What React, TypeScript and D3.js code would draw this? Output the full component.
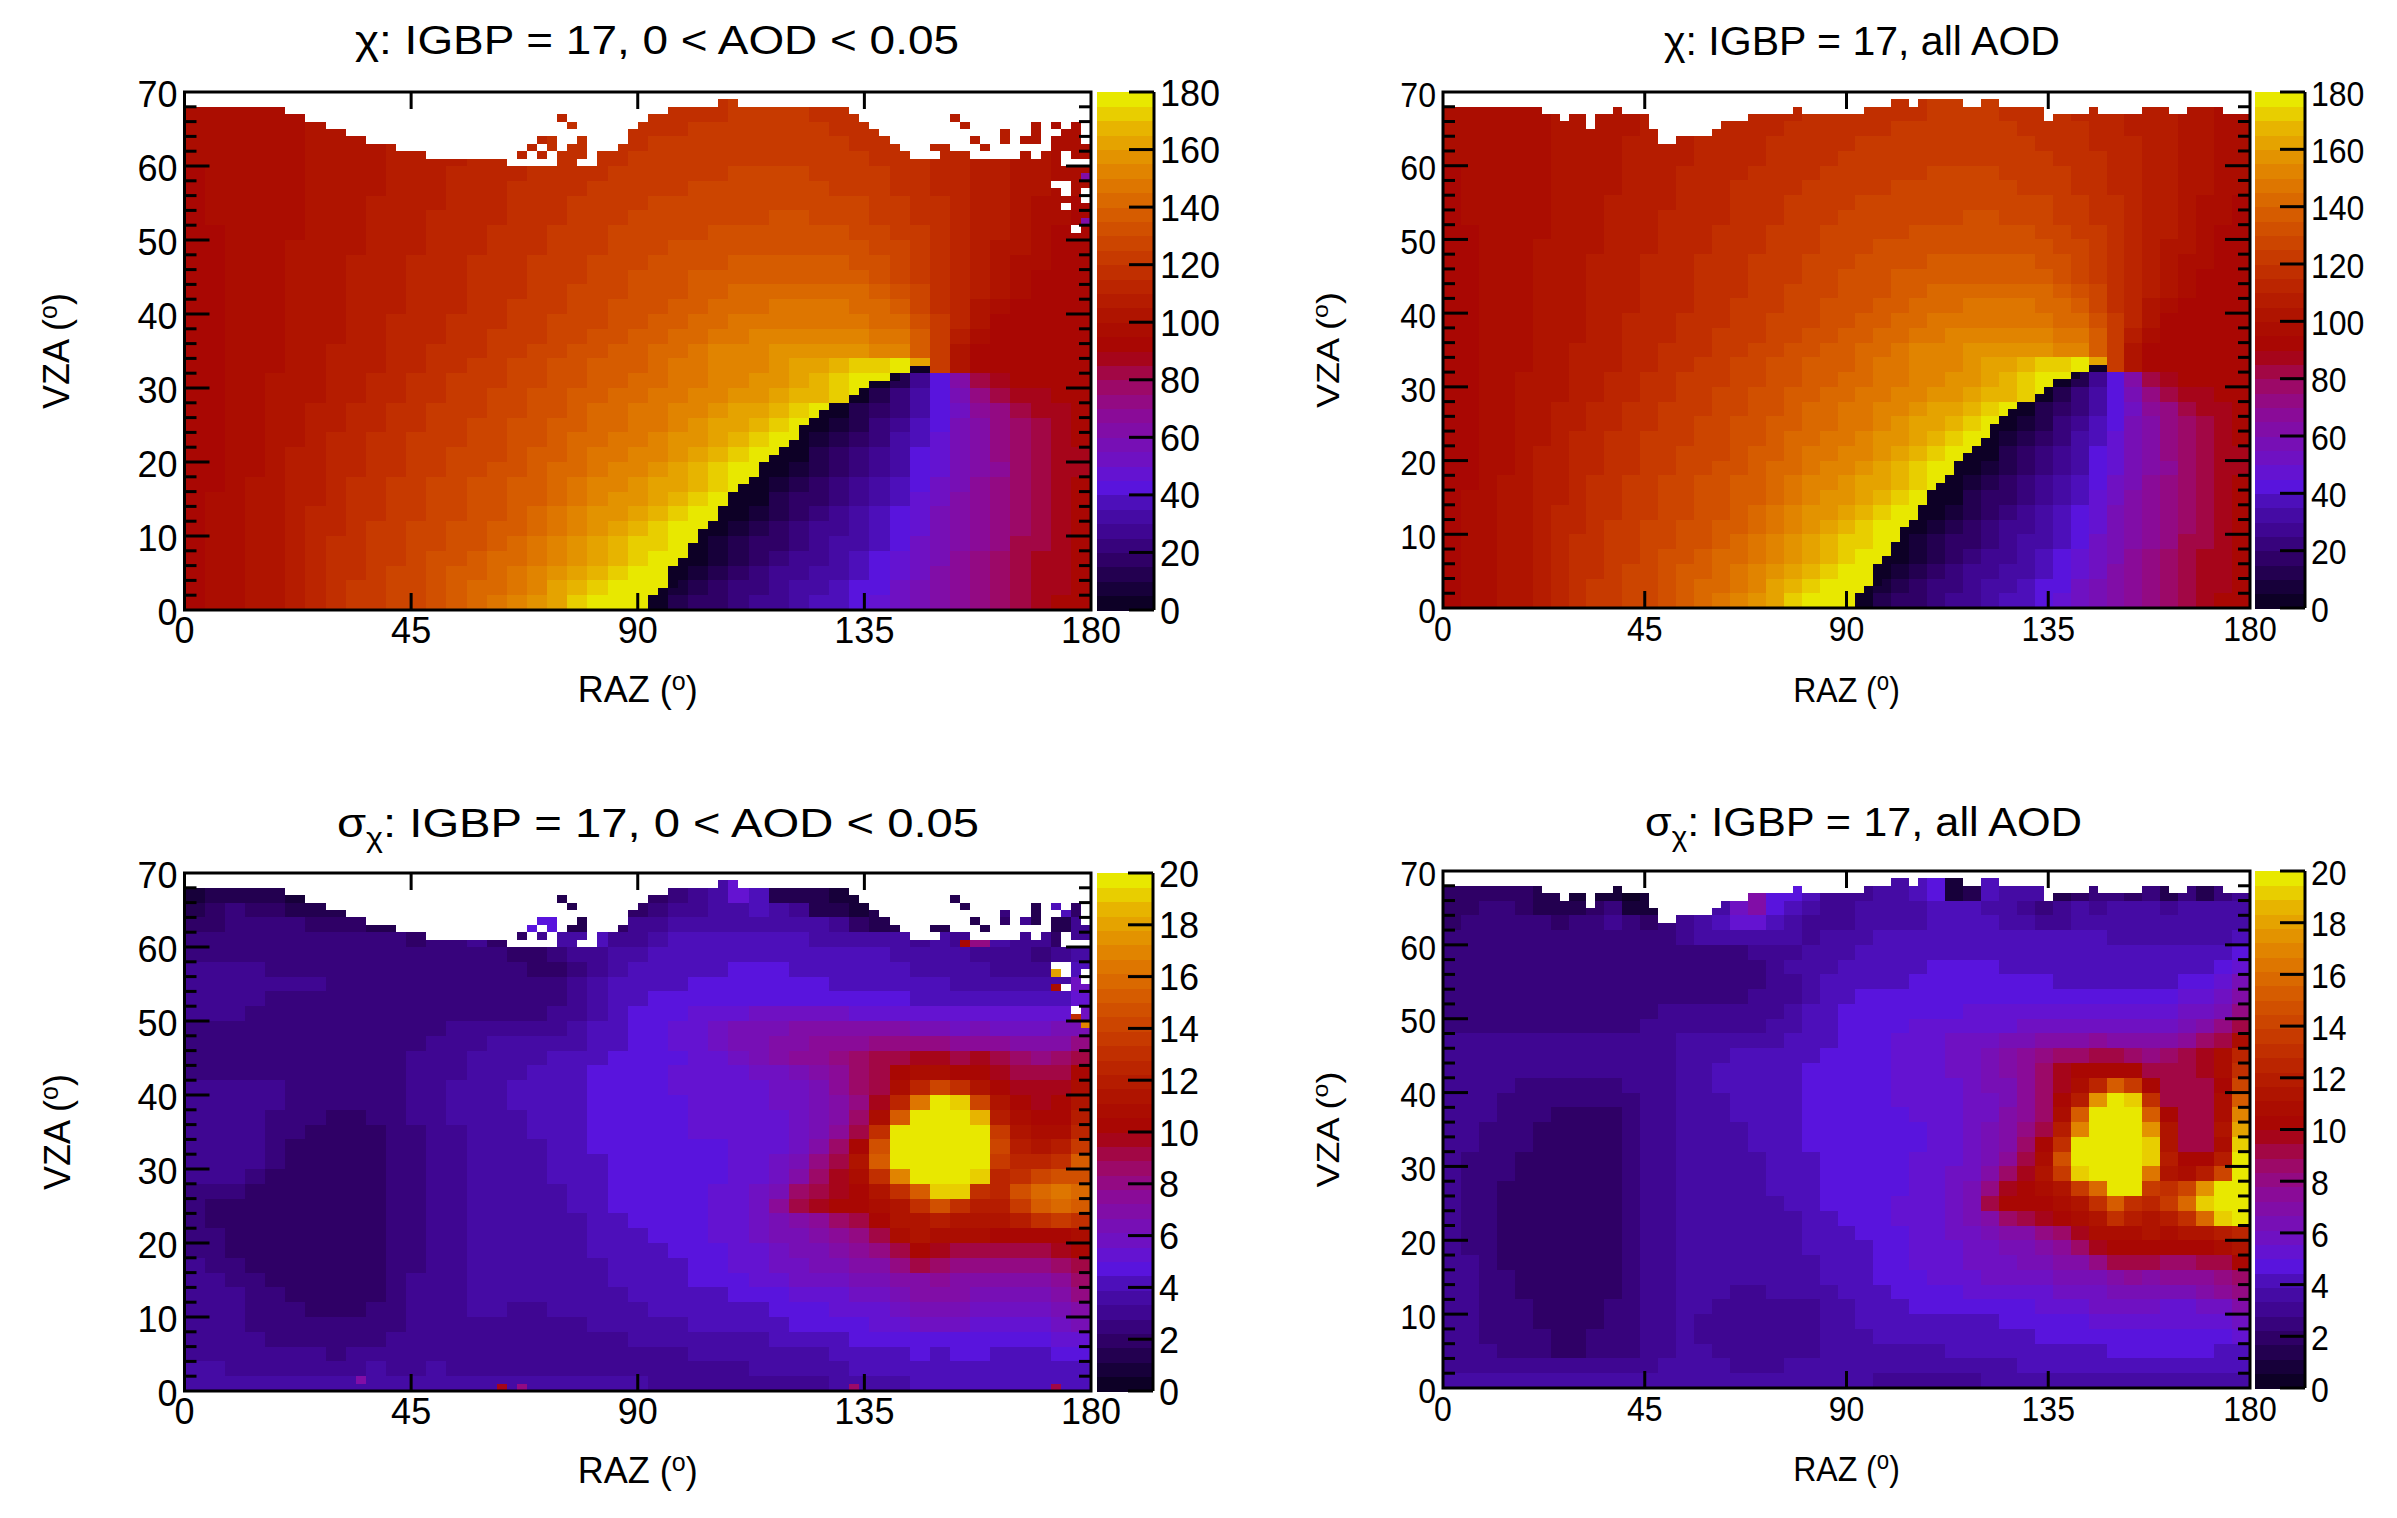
import React from "react";
import * as d3 from "d3";

const FONT = "'Liberation Sans', Arial, sans-serif";
const BANDS = 36;
const X_TICKS = [0, 45, 90, 135, 180];
const Y_MAJOR = [0, 10, 20, 30, 40, 50, 60, 70];
const Y_MINOR = [2, 4, 6, 8, 12, 14, 16, 18, 22, 24, 26, 28, 32, 34, 36, 38, 42, 44, 46, 48, 52, 54, 56, 58, 62, 64, 66, 68];
const CHI_TICKS = [0, 20, 40, 60, 80, 100, 120, 140, 160, 180];
const SIGMA_TICKS = [0, 2, 4, 6, 8, 10, 12, 14, 16, 18, 20];

const PALETTE_AT = [0, 9, 18, 27, 36, 43, 50, 60, 70, 80, 90, 100, 110, 120, 130, 140, 150, 160, 170, 176];
const PALETTE = ["#08001c", "#1a0040", "#300068", "#3e0690", "#4a0eb0", "#5a14e0", "#6a12c8", "#7c0eae", "#8e0a90", "#a0085a", "#a80404", "#ac1000", "#b82000", "#c43400", "#cf4a00", "#d86200", "#e07c00", "#e49a00", "#e8bc00", "#e8e800"];

// Cell values: rows VZA 0-2, 2-4, ... ; columns RAZ 0-4, 4-8, ...
const CHI: number[][] = [
[92,95,98,101,104,108,112,116,120,123,126,129,133,137,141,145,150,156,163,170,175,177,178,4,10,15,19,23,26,29,32,35,38,41,46,52,57,62,67,72,77,82,86,90,93],
[92,95,98,101,104,108,112,116,120,123,126,129,132,136,140,144,148,154,160,167,172,176,178,178,6,12,17,21,24,27,30,33,36,40,44,50,55,61,66,71,76,81,85,89,93],
[92,95,98,101,104,108,112,115,119,122,125,128,131,135,138,142,146,151,157,163,168,172,176,178,178,8,13,18,21,25,28,31,34,38,43,49,54,60,65,71,76,81,85,89,93],
[92,95,98,101,104,107,111,115,118,121,124,127,130,133,136,140,144,148,154,159,164,168,173,177,178,178,9,14,18,22,26,29,32,36,41,47,53,59,65,70,75,80,85,89,93],
[92,95,98,101,104,107,111,115,118,120,123,126,129,131,134,138,141,146,151,156,161,165,170,174,177,178,5,10,15,19,23,27,30,34,39,44,50,58,63,69,74,80,84,88,92],
[92,95,98,100,104,107,110,114,117,120,122,125,127,130,133,136,139,143,148,153,158,163,168,172,176,178,178,6,12,17,21,25,29,33,37,43,49,57,62,68,73,79,84,88,92],
[92,95,97,100,103,106,110,113,116,119,122,124,126,129,132,134,137,141,146,151,155,159,163,168,172,176,178,178,8,13,18,22,26,30,35,41,47,55,61,67,72,78,83,87,91],
[92,95,97,100,103,106,109,112,115,118,121,123,126,128,131,133,136,139,144,149,152,155,159,163,168,172,176,178,4,10,15,19,24,28,32,38,45,53,60,66,71,77,82,87,90],
[92,94,97,100,103,106,109,112,115,118,120,122,125,127,130,132,135,138,142,146,150,153,156,160,164,168,172,177,178,6,12,16,21,25,30,36,43,51,59,65,70,76,81,86,90],
[92,94,97,99,102,105,108,111,114,117,119,121,124,126,128,130,133,136,140,143,147,150,153,156,160,165,170,175,178,3,8,13,18,23,28,34,41,49,58,64,69,75,80,85,89],
[92,94,97,99,102,105,108,111,114,116,119,121,123,125,127,129,132,135,138,141,145,148,151,153,158,162,167,172,177,178,4,10,15,20,26,32,40,48,57,64,70,75,80,85,89],
[92,94,97,99,102,104,107,110,113,115,118,120,122,124,126,128,131,134,137,140,143,146,149,151,155,159,163,168,172,177,178,6,12,17,23,30,38,46,56,64,70,76,82,87,90],
[92,94,96,99,101,104,106,109,112,114,116,119,121,123,125,127,130,133,136,139,142,144,147,149,153,157,160,164,168,172,177,1,8,14,20,27,36,44,55,64,71,78,84,88,90],
[92,94,96,98,100,103,105,108,110,113,115,117,120,122,124,126,129,131,134,137,140,142,145,147,150,153,157,160,163,167,171,176,178,11,16,24,34,42,54,66,74,82,87,89,90],
[92,94,96,98,100,102,104,107,109,112,114,116,119,121,123,125,127,130,133,136,139,141,143,145,148,151,153,155,158,162,165,169,173,177,12,20,30,42,56,72,82,87,89,90,90],
[92,94,96,98,100,102,104,106,108,110,113,115,118,120,122,124,126,129,131,134,137,139,141,143,146,149,151,153,155,158,162,166,170,175,178,14,28,44,62,82,88,90,90,90,90],
[92,94,96,98,99,101,103,105,107,109,112,114,116,119,121,123,125,127,130,133,135,137,139,142,145,148,150,152,154,157,160,163,167,171,174,177,160,120,100,92,90,90,90,90,90],
[92,94,96,98,99,101,103,105,107,109,111,113,115,117,119,121,124,126,128,131,133,136,139,141,144,147,150,152,154,155,156,157,157,156,154,150,138,120,100,93,90,90,90,90,90],
[92,94,96,97,99,101,103,104,106,108,110,112,114,116,118,120,122,124,126,129,131,134,136,138,141,143,146,148,150,151,152,153,152,151,149,145,135,122,106,96,92,90,90,90,90],
[92,94,96,97,99,100,102,104,106,108,110,111,113,115,117,119,121,123,125,127,129,132,134,136,138,140,143,145,147,148,149,149,148,147,144,140,130,120,110,100,94,91,90,90,90],
[92,94,96,97,99,100,102,104,106,107,109,111,113,114,116,118,120,122,124,126,128,130,132,134,136,138,140,142,144,145,146,146,146,144,141,136,127,119,111,103,97,93,91,90,90],
[92,94,96,97,99,100,102,104,105,107,109,110,112,114,115,117,119,121,123,125,127,128,130,132,134,136,138,140,141,142,142,142,142,141,138,132,125,119,112,105,100,95,92,91,90],
[92,94,96,97,98,100,102,103,105,107,108,110,112,113,115,117,119,120,122,124,126,128,130,131,133,135,136,137,138,139,139,139,138,136,133,129,124,119,113,107,102,97,93,91,91],
[93,94,96,97,98,100,101,103,105,106,108,110,111,113,115,116,118,120,121,123,125,127,128,130,132,133,134,135,136,136,136,136,135,133,130,126,122,118,113,108,103,98,95,92,91],
[93,94,96,97,98,100,101,103,104,106,108,109,111,112,114,116,117,119,121,122,124,126,127,129,130,131,132,133,133,134,134,133,132,130,128,125,121,118,114,109,104,100,96,93,92],
[93,94,96,97,98,99,101,102,104,106,107,109,110,112,113,115,117,118,120,122,123,125,126,127,128,129,130,131,131,131,131,131,130,128,126,123,120,117,113,109,105,101,97,94,92],
[93,95,96,97,98,99,101,102,104,105,107,108,110,111,113,114,116,118,119,121,122,124,125,126,127,128,129,129,129,130,130,129,128,126,124,122,119,116,113,109,106,102,98,95,93],
[94,95,96,97,98,99,100,102,103,105,106,108,109,111,112,114,115,117,118,120,121,122,124,125,126,127,127,128,128,128,128,127,126,125,123,120,118,115,112,109,106,103,99,96,94],
[94,95,96,97,98,99,100,102,103,104,106,107,109,110,112,113,115,116,117,119,120,121,122,123,124,125,126,126,126,126,126,125,124,123,121,119,117,114,112,109,106,103,100,97,95],
[94,95,96,97,98,99,100,101,103,104,105,107,108,110,111,112,114,115,116,118,119,120,121,122,123,124,124,125,125,125,125,124,123,121,120,118,116,114,111,109,106,103,100,98,95],
[95,95,96,97,98,99,100,101,102,104,105,106,108,109,110,112,113,114,116,117,118,119,120,121,122,122,123,123,124,124,123,123,122,120,119,117,115,113,111,108,106,103,100,98,96],
[95,95,96,97,98,99,100,101,102,103,105,106,107,109,110,111,112,113,115,116,117,118,119,120,120,121,122,122,122,123,122,122,121,119,118,116,114,112,110,108,106,103,101,98,96],
[95,96,96,97,98,99,100,101,102,103,104,105,107,108,109,110,111,112,114,115,116,117,118,119,119,120,120,121,121,121,121,120,119,118,117,115,113,111,109,107,105,103,101,99,97],
[95,96,96,97,98,99,100,100,101,102,104,105,106,107,108,110,111,112,113,114,115,116,117,118,118,119,119,120,120,120,120,119,118,117,116,114,112,110,108,106,105,103,101,99,97],
];

// RAZ at which chi jumps from 180 to 0, one entry per VZA degree from 0
const CHI_JUMP = [92,92,94,96,96,96,98,100,100,102,102,104,106,106,108,108,110,112,114,114,116,118,120,122,122,124,126,128,132,134,136,140,144];

// Sigma in tenths of a degree, same cells as CHI
const SIGMA_LOW: number[][] = [
[36,38,36,37,35,36,38,37,36,35,36,37,35,36,34,37,35,36,34,36,35,34,35,33,33,32,32,31,31,32,33,33,34,36,37,38,39,40,41,40,40,41,39,40,41],
[34,35,33,33,32,32,33,32,33,34,33,33,34,33,32,33,33,31,32,33,32,33,33,33,32,32,33,33,34,34,35,36,37,39,41,42,42,42,43,42,42,43,43,42,43],
[33,33,31,30,29,28,28,27,28,29,29,31,32,32,31,30,29,30,29,28,29,30,32,33,33,34,34,35,35,36,37,38,40,42,43,44,45,44,45,45,44,44,44,45,47],
[32,32,30,28,27,26,26,26,27,27,28,30,32,33,32,31,30,30,30,30,31,32,34,35,36,36,37,38,38,39,41,42,44,46,47,48,48,49,49,48,48,48,49,50,54],
[32,31,29,27,26,24,24,24,24,25,27,30,32,33,33,32,32,31,32,33,34,35,36,37,38,39,40,41,41,43,45,46,47,49,50,53,56,58,57,55,55,54,55,57,63],
[31,30,28,27,25,23,22,21,22,23,26,29,32,33,34,34,33,33,34,35,36,37,38,39,40,41,42,43,44,46,48,49,51,53,55,60,62,63,63,60,60,59,60,63,70],
[31,29,28,26,24,22,20,20,20,22,25,29,31,33,34,35,35,35,36,36,37,38,39,40,42,43,44,46,47,49,51,53,55,57,60,66,67,68,68,66,66,65,66,70,78],
[30,28,26,24,22,20,19,19,20,21,24,28,30,33,34,35,35,36,36,37,38,39,40,41,43,45,47,48,50,53,56,58,60,62,65,70,72,73,72,70,71,71,72,76,85],
[28,27,25,22,20,19,19,19,19,20,23,27,30,33,34,35,36,36,37,37,38,39,40,42,44,46,48,50,53,56,59,62,65,67,72,80,90,86,80,78,80,82,82,86,92],
[27,25,22,20,19,19,18,18,19,20,23,27,30,33,35,35,36,37,37,38,40,41,43,44,45,47,49,51,55,59,63,66,70,73,80,94,104,96,92,90,92,92,92,95,100],
[26,23,21,20,19,19,19,19,19,20,23,27,30,33,35,36,36,37,37,38,41,43,44,45,46,48,50,53,57,62,66,69,74,79,90,106,112,110,108,106,102,100,102,104,108],
[26,22,20,19,19,19,19,19,19,20,24,27,30,33,35,36,37,37,38,38,42,44,45,46,47,48,50,53,58,66,72,76,84,92,100,112,116,120,116,112,112,122,128,134,128],
[26,22,20,19,19,19,19,19,19,20,24,27,30,33,35,36,37,38,38,40,43,45,46,47,48,49,50,54,60,74,92,98,100,102,110,116,132,146,130,118,122,138,150,160,152],
[27,26,24,20,20,20,19,19,19,20,24,27,30,33,35,36,37,38,38,40,43,45,46,47,48,49,50,53,56,66,84,92,96,104,114,128,150,190,190,130,124,146,160,166,158],
[28,28,28,24,22,20,19,19,20,21,24,27,30,33,35,36,37,38,39,41,44,46,47,48,48,49,49,51,52,60,72,84,96,108,128,170,200,200,200,190,126,132,140,146,148],
[28,28,28,28,24,21,20,20,20,21,24,27,30,33,35,36,37,38,39,41,44,46,47,48,48,49,49,50,51,56,64,78,92,112,150,200,200,200,200,200,135,124,126,132,150],
[28,28,28,28,26,22,21,20,20,22,24,27,30,33,35,36,37,38,40,42,45,46,47,48,49,49,49,50,51,54,60,70,84,100,145,200,200,200,200,200,140,118,116,118,134],
[28,28,28,28,27,26,22,21,21,22,25,27,30,33,36,37,38,39,40,42,45,47,48,48,49,50,50,51,52,54,60,66,76,90,128,195,200,200,200,200,135,112,106,108,126],
[28,28,28,28,27,27,25,22,22,23,25,28,31,34,36,37,38,39,41,43,46,47,48,49,49,50,50,52,53,55,60,65,72,84,110,150,200,200,200,185,120,106,100,102,120],
[28,28,28,28,28,27,27,27,26,25,26,28,31,34,36,38,39,40,41,43,46,47,48,49,49,50,51,53,54,56,60,65,72,80,96,125,165,195,190,140,112,100,98,100,116],
[28,28,28,28,28,27,27,27,27,26,26,28,31,34,36,38,39,40,41,43,46,47,48,49,50,50,52,54,55,58,61,66,74,84,94,108,125,140,130,115,102,98,96,98,110],
[27,27,27,27,27,27,27,27,27,26,26,28,31,33,36,37,38,39,40,42,45,47,48,49,50,51,52,54,56,60,65,70,76,86,94,100,106,106,104,102,98,92,90,92,104],
[27,27,27,27,27,27,27,27,27,26,26,28,30,33,35,36,37,38,39,40,42,45,46,47,48,51,55,60,65,70,74,76,80,84,90,94,96,96,94,96,94,86,82,84,92],
[27,27,27,27,27,27,27,26,26,26,26,27,29,31,33,34,34,35,36,38,41,43,45,47,50,54,58,62,66,70,72,73,75,76,80,82,80,78,74,74,76,72,70,72,78],
[27,27,27,27,27,27,26,26,26,26,26,26,27,28,30,30,30,30,32,35,39,42,45,47,50,54,58,62,64,66,67,68,68,67,68,68,66,62,60,62,60,58,60,62,66],
[28,28,28,27,27,27,27,27,27,26,26,26,26,26,27,27,26,27,29,33,37,41,45,47,49,51,53,55,56,56,56,56,56,55,55,54,52,52,50,50,50,52,50,54,60],
[28,28,28,28,27,27,27,27,27,27,27,26,26,26,26,26,25,25,27,31,36,41,43,45,46,47,48,48,48,47,47,47,47,46,46,45,44,44,43,43,42,44,40,44,50],
[28,28,28,28,28,28,28,27,27,27,27,27,26,26,27,26,24,23,25,29,34,40,42,43,44,45,45,45,45,45,45,45,44,44,43,42,40,40,38,38,37,36,34,36,60],
[28,28,28,28,27,27,27,27,27,27,27,27,26,26,26,26,24,21,22,25,32,38,41,42,43,44,44,45,45,45,44,44,43,42,41,40,38,37,36,35,33,30,32,90,40],
[27,27,27,27,27,27,26,26,26,26,26,25,25,25,25,25,22,20,24,28,31,35,38,40,41,42,43,44,44,44,43,43,42,41,40,38,37,36,35,33,31,28,26,30,34],
[25,25,26,26,26,26,25,25,25,24,23,22,24,26,30,20,21,28,36,38,40,30,33,36,39,40,40,40,40,40,39,38,37,36,36,34,30,34,32,80,34,32,30,20,30],
[20,22,26,26,26,24,22,21,20,16,14,20,20,20,24,26,24,46,48,14,24,20,30,33,34,36,36,38,38,36,36,34,30,20,16,14,14,14,14,14,18,30,14,14,30],
[16,20,24,22,20,14,12,12,14,14,20,20,24,24,26,26,20,40,14,14,14,20,18,24,30,32,34,38,40,34,30,16,12,10,12,14,14,14,14,14,24,24,14,40,20],
[10,14,16,16,16,10,10,10,10,14,20,20,24,24,24,24,24,24,16,16,16,20,16,18,24,30,34,50,44,16,14,12,10,10,12,14,14,14,14,14,24,14,14,14,14],
];

const SIGMA_ALL: number[][] = [
[37,38,38,38,37,37,37,37,38,38,38,38,37,37,36,36,36,36,35,35,35,35,34,34,33,32,32,32,33,33,34,35,36,37,38,38,38,38,38,38,38,38,38,38,37],
[33,33,32,31,30,29,28,29,30,30,31,33,34,34,34,34,33,33,33,34,34,34,34,34,34,34,35,35,36,36,37,38,39,40,41,41,42,42,43,43,43,43,42,42,42],
[31,30,28,27,26,24,22,22,24,25,27,31,33,34,34,33,32,32,32,32,33,34,36,36,36,37,37,38,39,39,40,40,41,43,44,44,44,45,45,45,45,45,45,44,44],
[30,29,27,26,25,23,21,21,23,24,27,31,33,34,33,32,30,30,30,30,32,34,36,38,40,40,41,41,42,42,43,43,44,45,46,47,48,48,48,48,48,48,48,49,52],
[30,28,27,26,24,22,20,21,22,24,27,31,33,34,33,31,30,30,30,30,31,34,37,39,41,42,42,43,43,44,44,45,46,47,48,49,50,52,52,51,50,50,51,54,60],
[30,28,27,26,23,21,20,20,21,23,27,31,33,35,34,32,31,31,31,31,33,35,38,41,43,44,45,45,45,46,47,48,49,50,52,54,56,58,58,56,55,55,57,60,68],
[30,28,26,25,22,19,18,18,20,22,26,30,33,35,35,34,33,33,34,35,36,37,39,42,44,45,47,48,49,50,51,52,53,54,56,58,60,64,66,64,64,66,70,73,80],
[30,28,26,24,20,18,17,17,18,22,26,29,33,35,35,35,35,35,36,37,38,39,40,43,45,47,48,50,52,54,56,57,58,60,62,64,66,72,76,72,73,75,76,80,86],
[30,28,26,22,18,17,17,17,17,20,24,28,32,34,35,36,36,36,37,37,38,39,41,43,46,48,50,52,54,56,58,60,62,64,68,72,80,94,92,90,88,88,90,94,100],
[29,27,25,20,17,17,17,17,17,19,23,28,32,34,35,36,36,36,37,38,39,40,42,44,46,49,51,53,55,58,61,64,66,70,76,86,96,104,102,102,100,102,102,106,112],
[29,27,24,19,17,17,17,17,17,18,23,28,32,34,35,36,36,37,37,38,41,43,44,45,47,49,52,54,57,60,64,68,72,78,88,98,106,110,108,112,110,112,114,118,124],
[28,27,24,19,18,18,18,18,17,18,23,28,32,34,35,36,37,37,38,38,42,43,45,46,48,50,52,55,58,62,70,85,92,98,102,106,116,130,118,116,120,130,160,190,200],
[28,26,24,21,18,18,18,18,18,19,24,28,32,34,35,36,37,38,38,39,43,45,46,47,48,50,52,55,58,66,92,100,102,104,106,112,130,150,130,126,138,160,190,200,200],
[28,26,25,22,19,18,18,18,18,19,24,28,32,34,36,37,37,38,39,39,44,46,47,48,48,49,51,54,58,64,78,96,104,108,116,136,160,195,195,135,128,140,175,200,200],
[28,27,26,24,20,19,18,18,19,20,25,29,32,34,36,37,38,38,39,40,44,46,47,48,48,49,50,53,56,60,70,84,98,112,138,190,200,200,200,165,116,108,118,140,200],
[28,27,26,25,21,19,19,18,19,20,25,29,32,34,36,37,38,38,39,40,44,46,47,48,48,48,50,52,55,58,66,76,90,110,146,200,200,200,200,190,118,100,102,120,198],
[28,28,27,26,23,20,19,19,19,21,26,29,32,35,36,37,38,39,40,41,45,46,47,48,48,48,49,51,54,57,63,72,84,100,128,200,200,200,200,190,114,94,90,110,190],
[28,28,27,26,25,21,19,19,19,21,26,29,32,35,37,38,38,39,40,41,45,47,48,48,48,48,49,51,53,56,62,68,78,94,118,170,200,200,200,175,112,94,92,112,180],
[28,28,28,27,26,24,19,19,20,22,27,30,33,35,37,38,39,40,41,42,46,47,48,48,48,49,50,52,54,57,61,67,74,88,108,150,195,200,200,150,104,92,94,108,170],
[28,28,28,27,27,26,24,24,24,25,27,30,33,36,37,38,39,40,41,42,46,47,48,48,49,50,51,53,54,57,61,66,74,86,100,118,175,198,190,130,94,90,92,106,150],
[28,28,28,28,27,27,27,27,27,27,28,30,33,36,38,39,40,41,42,43,46,47,48,48,49,50,52,54,55,58,62,66,74,88,98,108,125,150,135,105,92,90,94,104,140],
[28,28,28,28,28,28,28,28,28,28,28,31,33,36,38,39,40,41,41,43,46,47,48,48,49,50,52,54,56,59,63,67,74,86,96,100,104,104,100,94,90,92,96,106,132],
[28,28,28,28,28,28,28,28,28,28,28,31,33,35,37,38,39,39,40,41,43,45,46,48,49,51,53,55,57,60,63,68,74,80,86,88,92,90,86,82,86,90,98,108,124],
[28,28,28,28,28,28,28,28,28,28,28,30,32,34,35,36,36,36,37,39,42,44,46,48,49,50,52,54,56,58,60,62,64,68,70,72,74,72,68,68,70,76,84,94,110],
[27,27,27,27,27,27,27,27,27,27,27,28,30,31,32,32,32,32,34,37,40,44,46,47,48,49,50,51,52,53,54,55,56,56,58,58,58,58,56,56,60,64,70,78,92],
[27,27,27,27,27,27,27,27,27,27,27,27,28,28,28,28,29,30,32,35,39,42,45,46,47,47,48,48,49,50,50,51,51,51,52,52,52,52,51,51,54,56,60,66,80],
[27,27,27,27,27,27,27,27,27,27,27,27,27,27,27,27,27,28,30,33,38,41,43,45,46,46,46,46,47,47,47,47,47,47,47,47,46,46,46,46,48,50,52,58,70],
[27,27,27,27,27,27,27,27,27,27,27,27,27,27,27,27,26,26,29,33,37,40,42,44,44,44,45,45,46,46,46,45,45,45,44,44,43,43,43,43,44,46,48,52,62],
[27,27,27,27,27,27,27,27,27,27,27,27,27,26,26,26,26,26,29,34,36,38,40,42,43,44,44,45,45,45,45,44,44,43,43,42,41,41,41,41,42,42,44,46,52],
[26,26,26,26,26,26,26,26,26,26,26,26,26,26,27,27,27,28,30,32,34,36,38,40,42,43,44,44,44,44,44,43,43,42,41,40,40,40,40,40,40,40,40,42,46],
[25,26,26,26,26,26,26,26,25,25,24,24,26,30,34,36,38,38,36,34,33,34,36,38,40,41,42,43,44,44,43,42,41,40,39,39,39,38,38,38,38,38,38,38,40],
[22,24,25,25,26,24,22,24,26,30,26,20,24,30,36,42,50,52,42,36,32,30,32,35,36,38,38,40,40,40,40,38,34,32,32,36,34,36,38,36,36,38,38,38,36],
[20,22,24,24,22,16,14,16,18,24,10,10,20,16,30,38,60,70,46,40,34,30,30,34,34,36,38,40,40,40,38,36,28,26,32,36,30,34,36,34,32,34,36,36,36],
[18,20,22,22,18,14,12,10,6,6,5,8,14,12,16,12,16,70,46,46,40,32,30,30,34,34,40,46,10,14,40,34,36,34,16,18,24,24,22,24,12,24,12,24,30],
];

// Upper VZA limit of the filled area per 2-degree RAZ bin
const TOP_LOW = [68,68,68,68,68,68,68,68,68,68,67,67,66,66,65,65,64,64,63,63,63,62,62,62,61,61,61,61,61,61,61,61,60,60,60,60,60,60,60,60,60,62,62,63,65,66,67,67,68,68,68,68,68,69,69,68,68,68,68,68,68,68,68,68,68,68,67,66,65,64,63,62,61,61,61,61,61,61,61,61,61,61,61,61,61,61,61,61,61,61];
const TOP_ALL = [68,68,68,68,68,68,68,68,68,68,68,67,67,66,67,67,65,67,67,68,67,67,67,65,63,63,64,64,64,64,65,66,66,66,67,67,67,67,67,68,67,67,67,67,67,67,67,68,68,68,69,69,68,69,69,69,69,69,68,68,69,69,68,68,68,68,68,66,67,67,67,67,68,67,67,67,67,67,68,68,68,67,67,68,68,68,68,67,67,67];
// Isolated filled and empty bins [RAZ, VZA] of the low-AOD panels
const ISOLATED_LOW = [[74,66],[76,65],[70,63],[72,63],[78,63],[68,62],[72,62],[76,62],[78,62],[66,61],[70,61],[74,61],[76,61],[78,61],[74,60],[76,60],[152,66],[154,65],[156,63],[158,62],[162,64],[162,63],[168,65],[168,64],[166,63],[168,63],[172,65],[174,64],[176,65],[176,64],[172,63],[174,63],[176,63],[148,62],[150,62],[172,62],[174,62],[176,62],[178,62],[150,61],[152,61],[154,61],[166,61],[170,61],[172,61],[176,61],[178,61]];
const HOLES_LOW = [[174,60],[176,60],[178,60],[172,57],[174,57],[174,56],[178,56],[178,55],[174,54],[176,51]];
const OUTLIERS_CHI = [[178,58,62],[178,52,62]];
const OUTLIERS_SIGMA = [[34,1,7],[62,0,9.5],[66,0,8],[132,0,8.5],[172,0,9],[154,60,10],[172,56,18],[172,54,11],[176,50,13],[178,49,17]];

const colorAt = d3.scaleLinear<string>().domain(PALETTE_AT).range(PALETTE).clamp(true);
const bandColor = (i: number) => colorAt(((i + 0.5) / BANDS) * 180);

function binValue(grid: number[][], i: number, j: number, unit: number, jump: boolean): number {
  const row = grid[Math.min(grid.length - 1, Math.floor(j / 2))];
  let v = row[Math.min(row.length - 1, Math.floor(i / 2))] * unit;
  if (jump && j < CHI_JUMP.length) {
    const c = i * 2 + 1, e = CHI_JUMP[j];
    if (c < e) {
      if (v < 60) v = 176;
    } else {
      if (v > 150) v = 4;
      if (c - e < 3) v = Math.min(v, 3);
    }
  }
  return v;
}

interface PanelSpec {
  x0: number; x1: number; y0: number; y1: number; cb0: number; cb1: number; sx: number;
  title: string; sub: boolean; titleX: number; titleW: number; titleY: number;
  xLabelY: number; yLabelX: number;
  grid: number[][]; unit: number; max: number; ticks: number[]; top: number[]; low: boolean; jump: boolean; outliers: number[][];
}

const PANELS: PanelSpec[] = [
  { x0: 184.5, x1: 1091, y0: 92, y1: 610, cb0: 1097, cb1: 1154, sx: 1, title: "χ: IGBP = 17, 0 < AOD < 0.05", sub: false, titleX: 355, titleW: 604, titleY: 54, xLabelY: 702, yLabelX: 69, grid: CHI, unit: 1, max: 180, ticks: CHI_TICKS, top: TOP_LOW, low: true, jump: true, outliers: OUTLIERS_CHI },
  { x0: 1443, x1: 2250, y0: 92, y1: 608, cb0: 2255, cb1: 2305, sx: 0.89, title: "χ: IGBP = 17, all AOD", sub: false, titleX: 1664, titleW: 396, titleY: 55, xLabelY: 702, yLabelX: 1339, grid: CHI, unit: 1, max: 180, ticks: CHI_TICKS, top: TOP_ALL, low: false, jump: true, outliers: [] },
  { x0: 184.5, x1: 1091, y0: 873, y1: 1391, cb0: 1097, cb1: 1153, sx: 1, title: "σ: IGBP = 17, 0 < AOD < 0.05", sub: true, titleX: 337, titleW: 642, titleY: 837, xLabelY: 1483, yLabelX: 70, grid: SIGMA_LOW, unit: 0.1, max: 20, ticks: SIGMA_TICKS, top: TOP_LOW, low: true, jump: false, outliers: OUTLIERS_SIGMA },
  { x0: 1443, x1: 2250, y0: 871, y1: 1388, cb0: 2255, cb1: 2305, sx: 0.89, title: "σ: IGBP = 17, all AOD", sub: true, titleX: 1645, titleW: 437, titleY: 836, xLabelY: 1481, yLabelX: 1339, grid: SIGMA_ALL, unit: 0.1, max: 20, ticks: SIGMA_TICKS, top: TOP_ALL, low: false, jump: false, outliers: [] },
];

function Panel({ p }: { p: PanelSpec }) {
  const x = d3.scaleLinear().domain([0, 180]).range([p.x0, p.x1]);
  const y = d3.scaleLinear().domain([0, 70]).range([p.y1, p.y0]);
  const cb = d3.scaleLinear().domain([0, p.max]).range([p.y1, p.y0]);
  const band = (v: number) => Math.max(0, Math.min(BANDS - 1, Math.floor((v / p.max) * BANDS)));
  const paths = d3.range(BANDS).map(() => d3.path());
  const isolated = new Set(p.low ? ISOLATED_LOW.map((d) => d.join()) : []);
  const holes = new Set(p.low ? HOLES_LOW.map((d) => d.join()) : []);
  const outliers = new Map(p.outliers.map((d) => [d[0] + "," + d[1], d[2]]));
  for (let j = 0; j < 70; j++) {
    for (let i = 0; i < 90; i++) {
      const key = i * 2 + "," + j;
      if ((j >= p.top[i] && !isolated.has(key)) || holes.has(key)) continue;
      const v = outliers.get(key) ?? binValue(p.grid, i, j, p.unit, p.jump);
      const px = x(i * 2), py = y(j + 1);
      paths[band(v)].rect(px, py, x(i * 2 + 2) - px, y(j) - py);
    }
  }
  const tickFont = { fontFamily: FONT, fontSize: 36, fill: "#000" };
  const squeezed = (tx: number, ty: number, rot = 0) => `translate(${tx},${ty}) scale(${p.sx},1)` + (rot ? ` rotate(${rot})` : "");
  return (
    <g>
      {paths.map((d, i) => <path key={i} d={d.toString()} fill={bandColor(i)} shapeRendering="crispEdges" />)}
      {d3.range(BANDS).map((i) => {
        const lo = cb((i / BANDS) * p.max), hi = cb(((i + 1) / BANDS) * p.max);
        return <rect key={i} x={p.cb0} y={hi} width={p.cb1 - p.cb0 - 1} height={lo - hi + 0.5} fill={bandColor(i)} shapeRendering="crispEdges" />;
      })}
      <line x1={p.cb1} x2={p.cb1} y1={p.y0} y2={p.y1} stroke="#000" strokeWidth={3} />
      {p.ticks.map((t) => <line key={t} x1={p.cb1 - 25} x2={p.cb1} y1={cb(t)} y2={cb(t)} stroke="#000" strokeWidth={3} />)}
      {p.ticks.map((t) => <text key={t} {...tickFont} textAnchor="start" dominantBaseline="central" transform={squeezed(p.cb1 + 6, cb(t) + 1)}>{t}</text>)}
      <rect x={p.x0} y={p.y0} width={p.x1 - p.x0} height={p.y1 - p.y0} fill="none" stroke="#000" strokeWidth={3} />
      {X_TICKS.slice(1, -1).flatMap((t) => [
        <line key={"b" + t} x1={x(t)} x2={x(t)} y1={p.y1} y2={p.y1 - 17} stroke="#000" strokeWidth={3} />,
        <line key={"t" + t} x1={x(t)} x2={x(t)} y1={p.y0} y2={p.y0 + 17} stroke="#000" strokeWidth={3} />,
      ])}
      {Y_MAJOR.slice(1, -1).flatMap((t) => [
        <line key={"l" + t} x1={p.x0} x2={p.x0 + 25} y1={y(t)} y2={y(t)} stroke="#000" strokeWidth={3} />,
        <line key={"r" + t} x1={p.x1} x2={p.x1 - 25} y1={y(t)} y2={y(t)} stroke="#000" strokeWidth={3} />,
      ])}
      {Y_MINOR.flatMap((t) => [
        <line key={"l" + t} x1={p.x0} x2={p.x0 + 12} y1={y(t)} y2={y(t)} stroke="#000" strokeWidth={3} />,
        <line key={"r" + t} x1={p.x1} x2={p.x1 - 12} y1={y(t)} y2={y(t)} stroke="#000" strokeWidth={3} />,
      ])}
      {Y_MAJOR.map((t) => <text key={t} {...tickFont} textAnchor="end" dominantBaseline="central" transform={squeezed(p.x0 - 7, y(t) + 2)}>{t}</text>)}
      {X_TICKS.map((t) => <text key={t} {...tickFont} textAnchor="middle" transform={squeezed(x(t), p.y1 + 33)}>{t}</text>)}
      <text fontFamily={FONT} fontSize={41} x={p.titleX} y={p.titleY} textLength={p.titleW} lengthAdjust="spacingAndGlyphs">
        {p.sub ? (
          <>
            <tspan>σ</tspan>
            <tspan fontSize={28} dy={10}>χ</tspan>
            <tspan dy={-10}>: IGBP = 17, {p.title.split(", ")[1]}</tspan>
          </>
        ) : p.title}
      </text>
      <text fontFamily={FONT} fontSize={36} textAnchor="middle" transform={squeezed((p.x0 + p.x1) / 2, p.xLabelY)}>
        RAZ (<tspan fontSize={25} dy={-12}>o</tspan><tspan dy={12}>)</tspan>
      </text>
      <text fontFamily={FONT} fontSize={36} textAnchor="middle" transform={squeezed(p.yLabelX, (p.y0 + p.y1) / 2, -90)}>
        VZA (<tspan fontSize={25} dy={-12}>o</tspan><tspan dy={12}>)</tspan>
      </text>
    </g>
  );
}

export default function App() {
  return (
    <svg width={2397} height={1518} viewBox="0 0 2397 1518" style={{ position: "absolute", left: 0, top: 0, background: "#fff" }}>
      {PANELS.map((p) => <Panel key={p.title} p={p} />)}
    </svg>
  );
}
